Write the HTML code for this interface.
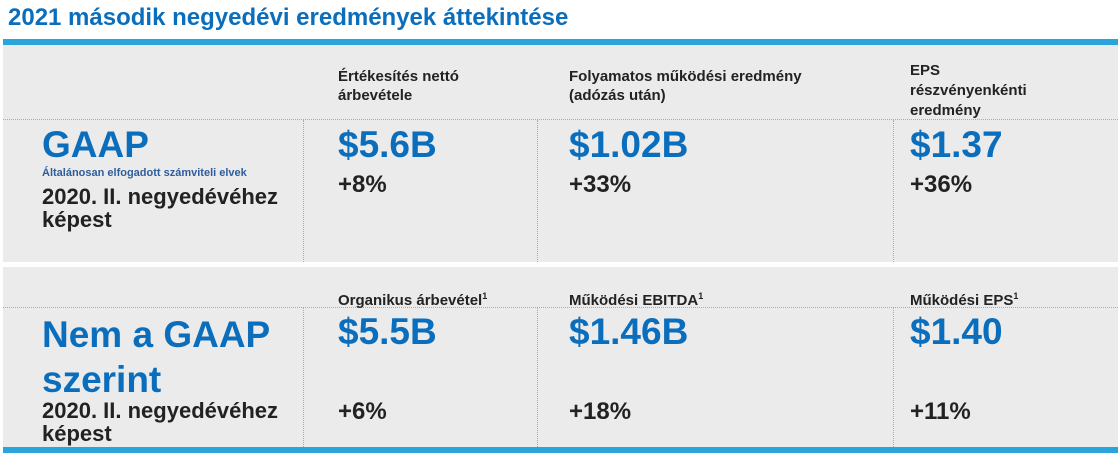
<!DOCTYPE html>
<html><head><meta charset="utf-8"><style>
body{margin:0;width:1118px;height:453px;background:#fff;font-family:"Liberation Sans",Arial,sans-serif;position:relative;overflow:hidden}
.a{position:absolute;white-space:nowrap;font-weight:bold}
.bar{position:absolute;left:3px;right:0;background:#29a5dc}
.panel{position:absolute;left:3px;right:0;background:#ebebeb}
.hl{position:absolute;left:3px;right:0;border-top:1px dotted #aaa}
.vl{position:absolute;border-left:1px dotted #aaa}
.h{font-size:15px;color:#222;line-height:19px}
.big{font-size:37px;color:#0a6ebd;line-height:40px}
.pc{font-size:24px;color:#222;line-height:28px}
.sub{font-size:22px;color:#222;line-height:23px}
sup{font-size:9px;vertical-align:6px}
</style></head><body>
<div class="a" style="left:8px;top:4px;font-size:24px;color:#0a6ebd">2021 második negyedévi eredmények áttekintése</div>
<div class="bar" style="top:39px;height:6px"></div>
<div class="panel" style="top:45px;height:217px"></div>
<div class="panel" style="top:267px;height:180px"></div>
<div class="bar" style="top:447px;height:6px"></div>
<div class="hl" style="top:119px"></div>
<div class="hl" style="top:307px"></div>
<div class="vl" style="left:303px;top:120px;height:142px"></div>
<div class="vl" style="left:537px;top:120px;height:142px"></div>
<div class="vl" style="left:893px;top:120px;height:142px"></div>
<div class="vl" style="left:303px;top:308px;height:139px"></div>
<div class="vl" style="left:537px;top:308px;height:139px"></div>
<div class="vl" style="left:893px;top:308px;height:139px"></div>

<div class="a h" style="left:338px;top:67px">Értékesítés nettó<br>árbevétele</div>
<div class="a h" style="left:569px;top:67px">Folyamatos működési eredmény<br>(adózás után)</div>
<div class="a h" style="left:910px;top:61px;line-height:20px">EPS<br>részvényenkénti<br>eredmény</div>

<div class="a big" style="left:42px;top:125px">GAAP</div>
<div class="a" style="left:42px;top:167px;font-size:11px;color:#2e5d9e">Általánosan elfogadott számviteli elvek</div>
<div class="a sub" style="left:42px;top:185px">2020. II. negyedévéhez<br>képest</div>
<div class="a big" style="left:338px;top:125px">$5.6B</div>
<div class="a pc" style="left:338px;top:171px">+8%</div>
<div class="a big" style="left:569px;top:125px">$1.02B</div>
<div class="a pc" style="left:569px;top:171px">+33%</div>
<div class="a big" style="left:910px;top:125px">$1.37</div>
<div class="a pc" style="left:910px;top:171px">+36%</div>

<div class="a h" style="left:338px;top:287px">Organikus árbevétel<sup>1</sup></div>
<div class="a h" style="left:569px;top:287px">Működési EBITDA<sup>1</sup></div>
<div class="a h" style="left:910px;top:287px">Működési EPS<sup>1</sup></div>

<div class="a big" style="left:42px;top:312px;line-height:45px">Nem a GAAP<br>szerint</div>
<div class="a sub" style="left:42px;top:399px">2020. II. negyedévéhez<br>képest</div>
<div class="a big" style="left:338px;top:312px">$5.5B</div>
<div class="a pc" style="left:338px;top:398px">+6%</div>
<div class="a big" style="left:569px;top:312px">$1.46B</div>
<div class="a pc" style="left:569px;top:398px">+18%</div>
<div class="a big" style="left:910px;top:312px">$1.40</div>
<div class="a pc" style="left:910px;top:398px">+11%</div>
</body></html>
